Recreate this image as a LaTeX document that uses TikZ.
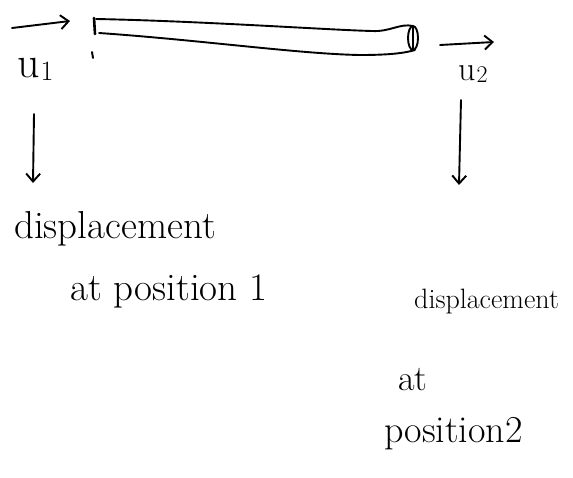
\documentclass[tikz,border=0pt]{standalone}
\usepackage{fontspec}
\usetikzlibrary{arrows.meta}
\tikzset{
  pen/.style={line width=1.9pt, line cap=round, line join=round},
  vecarrow/.style={pen, -{Straight Barb[length=8pt,width=14pt]}},
  downarrow/.style={pen, -{Straight Barb[length=8pt,width=14pt]}},
  hand/.style={inner sep=0pt, anchor=base west},
}
\begin{document}
\begin{tikzpicture}[x=1pt,y=-1pt]
  \useasboundingbox (0,0) rectangle (573,477);

  % the rod between the two positions
  \draw[pen] (96,19) .. controls (200,21) and (330,30) .. (372,31)
                     .. controls (390,32) and (400,23) .. (413,26);
  \draw[pen] (99,33) .. controls (200,40) and (300,54) .. (360,55)
                     .. controls (390,55) and (405,53) .. (415,50);
  \draw[pen, line width=2.6pt] (94,18) -- (95,34);
  \draw[pen] (413,38) ellipse (5 and 12);
  \draw[pen] (413,27) -- (413,50);

  % end displacements
  \node[hand, font=\fontsize{44}{46}\selectfont] (u1) at (17,77)
    {u\kern1pt\raisebox{-3pt}{\fontsize{28}{30}\selectfont 1}};
  \node[hand, font=\fontsize{34}{36}\selectfont] (u2) at (458,80)
    {u\kern1pt\raisebox{-2pt}{\fontsize{24}{26}\selectfont 2}};
  \coordinate (a1s) at (12,28);
  \coordinate (a1e) at (70,21);
  \coordinate (a2s) at (440,45);
  \coordinate (a2e) at (494,42);
  \draw[vecarrow] (a1s) -- (a1e);
  \draw[vecarrow] (a2s) -- (a2e);
  \draw[pen] (92,52) -- (93,58);

  % pointers to the descriptions
  \coordinate (d1s) at (34,114);
  \coordinate (d1e) at (33,183);
  \coordinate (d2s) at (461,100);
  \coordinate (d2e) at (459,185);
  \draw[downarrow] (d1s) -- (d1e);
  \draw[downarrow] (d2s) -- (d2e);

  % descriptions
  \node[hand, font=\fontsize{39}{42}\selectfont] (t1a) at (14,238) {displacement};
  \node[hand, font=\fontsize{39}{42}\selectfont] (t1b) at (70,300) {at position 1};
  \node[hand, font=\fontsize{28}{30}\selectfont] (t2a) at (414,308) {displacement};
  \node[hand, font=\fontsize{36}{38}\selectfont] (t2b) at (398,390) {at};
  \node[hand, font=\fontsize{38}{40}\selectfont] (t2c) at (384,442) {position2};
\end{tikzpicture}
\end{document}
